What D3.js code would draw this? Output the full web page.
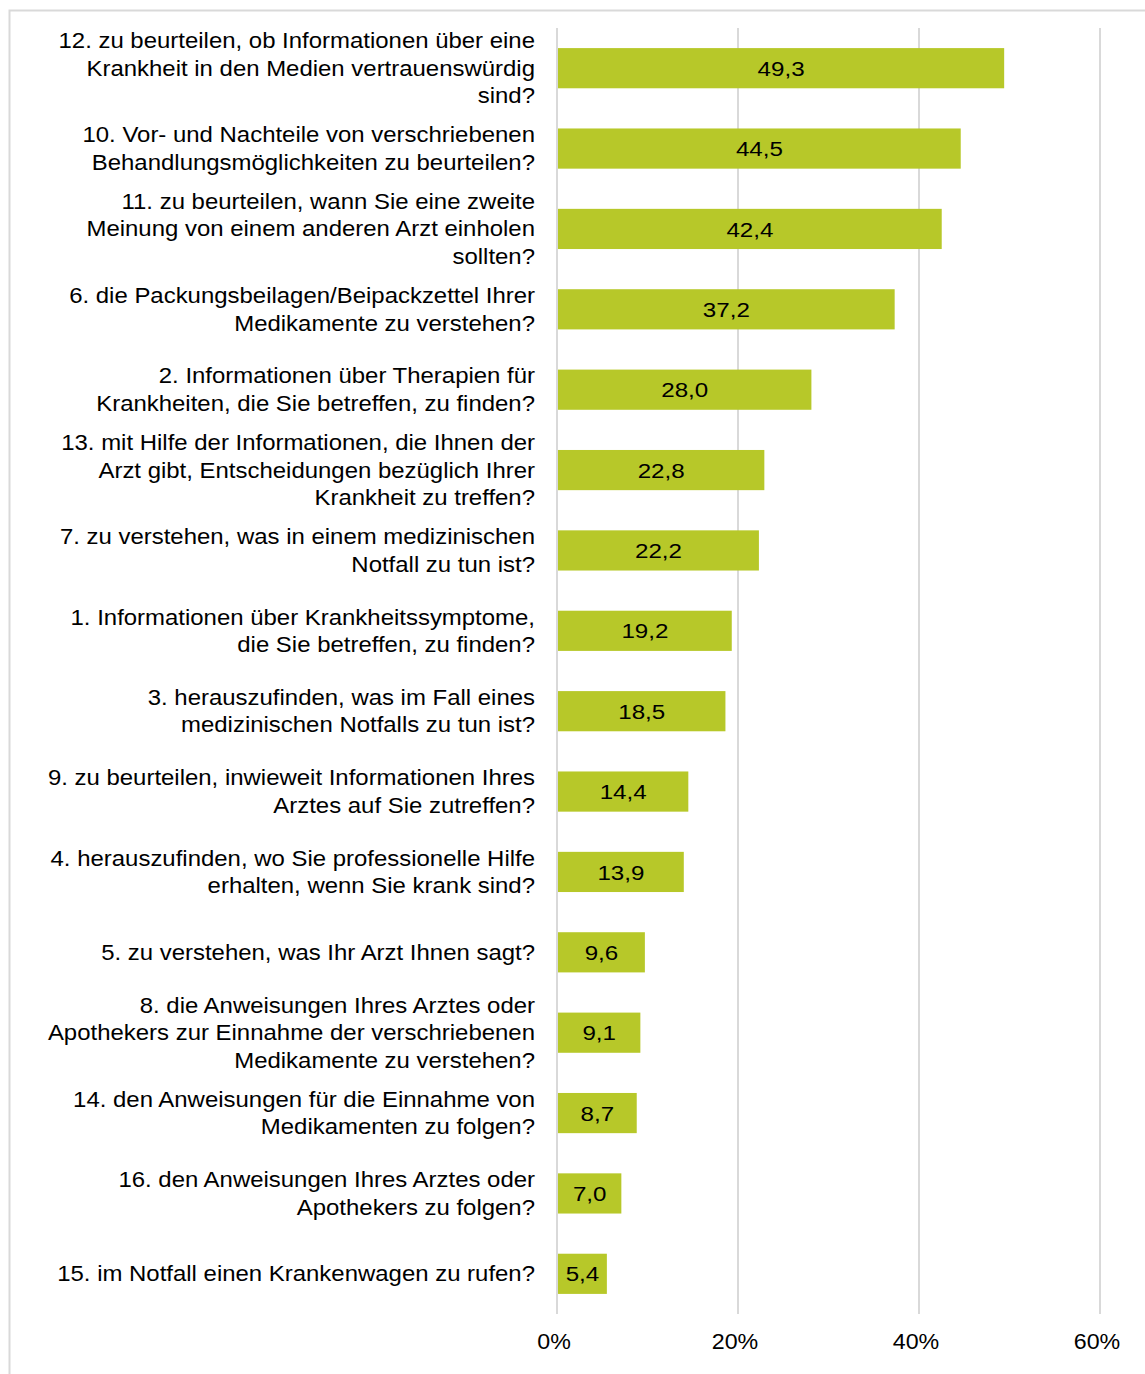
<!DOCTYPE html>
<html>
<head>
<meta charset="utf-8">
<script src="https://cdnjs.cloudflare.com/ajax/libs/d3/7.8.5/d3.min.js"></script>
<style>
  body { margin: 0; background: #fff; }
  text { font-family: "Liberation Sans", Arial, sans-serif; fill: #000; }
</style>
</head>
<body>
<div id="chart"></div>
<script>
// Categories (already wrapped the way the original shows them)
var categories = [
    ["12. zu beurteilen, ob Informationen über eine", "Krankheit in den Medien vertrauenswürdig", "sind?"],
    ["10. Vor- und Nachteile von verschriebenen", "Behandlungsmöglichkeiten zu beurteilen?"],
    ["11. zu beurteilen, wann Sie eine zweite", "Meinung von einem anderen Arzt einholen", "sollten?"],
    ["6. die Packungsbeilagen/Beipackzettel Ihrer", "Medikamente zu verstehen?"],
    ["2. Informationen über Therapien für", "Krankheiten, die Sie betreffen, zu finden?"],
    ["13. mit Hilfe der Informationen, die Ihnen der", "Arzt gibt, Entscheidungen bezüglich Ihrer", "Krankheit zu treffen?"],
    ["7. zu verstehen, was in einem medizinischen", "Notfall zu tun ist?"],
    ["1. Informationen über Krankheitssymptome,", "die Sie betreffen, zu finden?"],
    ["3. herauszufinden, was im Fall eines", "medizinischen Notfalls zu tun ist?"],
    ["9. zu beurteilen, inwieweit Informationen Ihres", "Arztes auf Sie zutreffen?"],
    ["4. herauszufinden, wo Sie professionelle Hilfe", "erhalten, wenn Sie krank sind?"],
    ["5. zu verstehen, was Ihr Arzt Ihnen sagt?"],
    ["8. die Anweisungen Ihres Arztes oder", "Apothekers zur Einnahme der verschriebenen", "Medikamente zu verstehen?"],
    ["14. den Anweisungen für die Einnahme von", "Medikamenten zu folgen?"],
    ["16. den Anweisungen Ihres Arztes oder", "Apothekers zu folgen?"],
    ["15. im Notfall einen Krankenwagen zu rufen?"]
];

var values = [49.3, 44.5, 42.4, 37.2, 28.0, 22.8, 22.2, 19.2, 18.5, 14.4, 13.9, 9.6, 9.1, 8.7, 7.0, 5.4];

var xTicks = [0, 20, 40, 60];

// Sizing
var width = 1145;
var height = 1374;
var margin = { top: 28, right: 45, bottom: 60, left: 557 };

var svg = d3.select("#chart")
    .append("svg")
    .attr("width", width)
    .attr("height", height);

// Outer frame (only top and left edges are inside the picture)
svg.append("rect")
    .attr("x", 9.5)
    .attr("y", 10.5)
    .attr("width", width + 20)
    .attr("height", height + 20)
    .attr("fill", "none")
    .attr("stroke", "#d9d9d9")
    .attr("stroke-width", 2);

var x = d3.scaleLinear()
    .domain([0, 60])
    .range([margin.left, width - margin.right]);

var y = d3.scaleBand()
    .domain(d3.range(categories.length))
    .range([margin.top, height - margin.bottom])
    .paddingInner(0.5)
    .paddingOuter(0.25);

// Gridlines
svg.append("g")
    .selectAll("line")
    .data(xTicks)
    .enter()
    .append("line")
    .attr("x1", d => x(d))
    .attr("x2", d => x(d))
    .attr("y1", margin.top)
    .attr("y2", height - margin.bottom)
    .attr("stroke", "#d9d9d9")
    .attr("stroke-width", 2);

// Bars
svg.append("g")
    .selectAll("rect")
    .data(values)
    .enter()
    .append("rect")
    .attr("x", x(0) + 1)
    .attr("y", (d, i) => y(i))
    .attr("width", d => x(d) - x(0))
    .attr("height", y.bandwidth())
    .attr("fill", "#b7c829");

// Value labels (the original text is a bit wider than Arial, so stretch it)
svg.append("g")
    .selectAll("text")
    .data(values)
    .enter()
    .append("text")
    .attr("transform", (d, i) =>
        `translate(${(x(0) + x(d)) / 2 + 1},${y(i) + y.bandwidth() / 2}) scale(1.15,1)`)
    .attr("dy", "0.36em")
    .attr("text-anchor", "middle")
    .style("font-size", "21px")
    .text(d => d3.format(".1f")(d).replace(".", ","));

// Category labels
var lineHeight = 27.5;
var labels = svg.append("g")
    .selectAll("text")
    .data(categories)
    .enter()
    .append("text")
    .attr("text-anchor", "end")
    .style("font-size", "21.5px")
    .attr("transform", (d, i) => `translate(535,${y(i) + y.bandwidth() / 2}) scale(1.114,1)`);

labels.selectAll("tspan")
    .data(d => d.map((line, j) => ({ line: line, j: j, n: d.length })))
    .enter()
    .append("tspan")
    .attr("x", 0)
    .attr("dy", d => d.j === 0 ? ((-(d.n - 1) / 2) * lineHeight + 7.5) : lineHeight)
    .text(d => d.line);

// X axis tick labels
svg.append("g")
    .selectAll("text")
    .data(xTicks)
    .enter()
    .append("text")
    .attr("transform", d => `translate(${x(d) - 3},1349) scale(1.08,1)`)
    .attr("text-anchor", "middle")
    .style("font-size", "21.5px")
    .text(d => d + "%");
</script>
</body>
</html>
